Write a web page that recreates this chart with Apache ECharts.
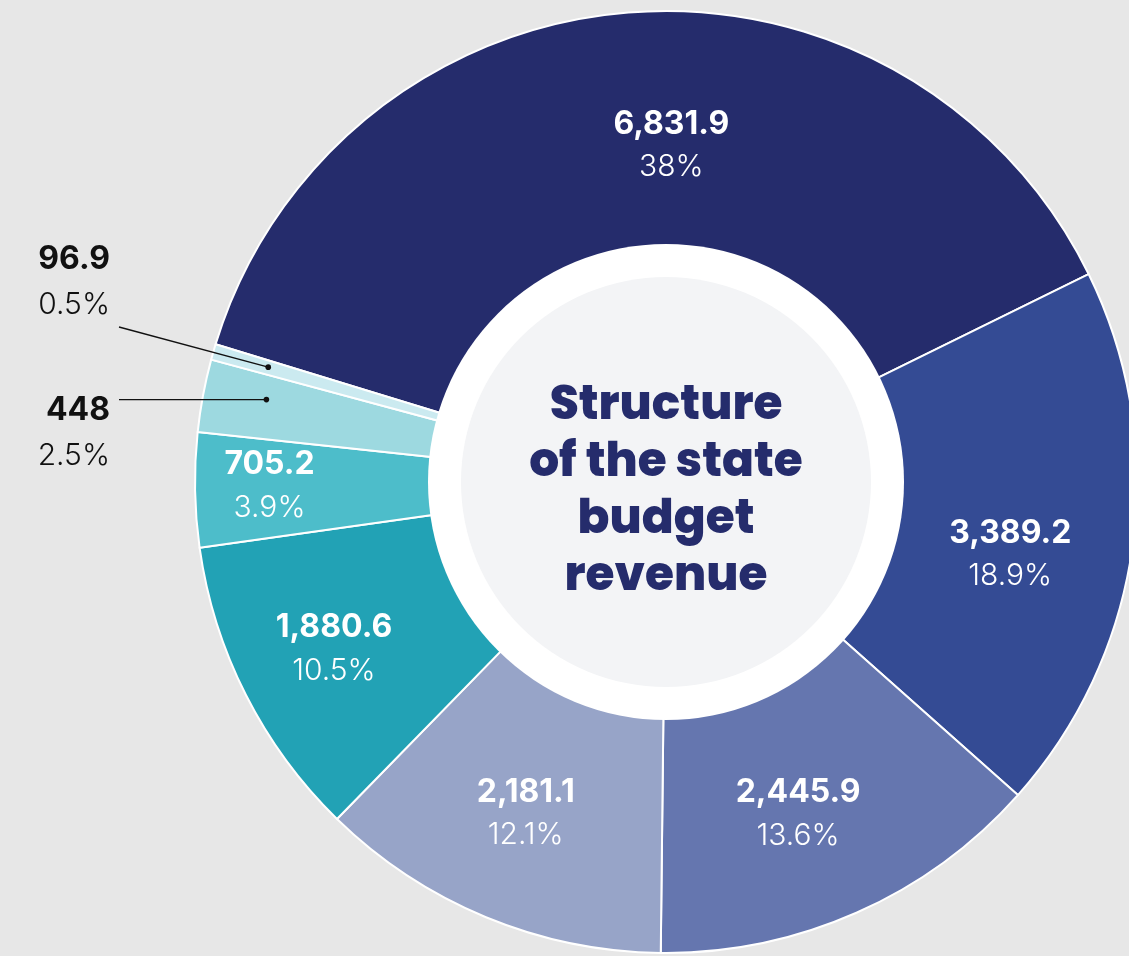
<!DOCTYPE html>
<html>
<head>
<meta charset="utf-8">
<script src="https://cdn.jsdelivr.net/npm/echarts@6/dist/echarts.min.js"></script>
<style>
  html, body { margin: 0; padding: 0; background: #e7e7e7; }
  #chart { width: 1129px; height: 956px; }
</style>
</head>
<body>
<div id="chart"></div>
<script>
// budget revenue, clockwise from the upper-left edge
const revenueValues = [6831.9, 3389.2, 2445.9, 2181.1, 1880.6, 705.2, 448, 96.9];
const percentLabels = ['38%', '18.9%', '13.6%', '12.1%', '10.5%', '3.9%', '2.5%', '0.5%'];
const sliceColors = ['#252c6c', '#344b94', '#6576af', '#97a4c8', '#22a2b5', '#4dbdca', '#9dd9e0', '#cbeaf0'];
const centerTitle = 'Structure\nof the state\nbudget\nrevenue';

// nudges for the inside labels (designer placed them by hand)
const labelShift = [[34, 19], [-9, 25], [-12, 6], [-4, 2], [-14, 6], [-40, -2]];

const CX = 666, CY = 482;
const R_OUT = 471, R_IN = 236, R_DISK = 205;
const START = 163;
const FONT = 'Inter, "Noto Sans", sans-serif';

const chart = echarts.init(document.getElementById('chart'));

const fmt = v => v.toLocaleString('en-US', {maximumFractionDigits: 1});

const insideRich = {
  v: {fontFamily: FONT, fontSize: 32, fontWeight: 'bold', color: '#fff', lineHeight: 43},
  p: {fontFamily: FONT, fontSize: 30, fontWeight: 300, color: '#fff', lineHeight: 43}
};
const outsideRich = {
  v: {fontFamily: FONT, fontSize: 32, fontWeight: 'bold', color: '#111', lineHeight: 46, align: 'right'},
  p: {fontFamily: FONT, fontSize: 30, fontWeight: 300, color: '#111', lineHeight: 46, align: 'right'}
};

const pieData = revenueValues.map((v, i) => ({
  value: v,
  name: fmt(v),
  itemStyle: {color: sliceColors[i]},
  label: i < 6 ? {rich: insideRich} : {rich: outsideRich, align: 'right'}
}));

// outside labels for the two thin slices, and where along each slice its dot sits
const outsidePos = {6: [110, 433], 7: [110, 282]};
const dotAt = {6: [0.62, 408], 7: [0.54, 414]};

// leader lines with dots for the thin slices, placed from the slice angles
const total = revenueValues.reduce((a, b) => a + b, 0);
const graphics = [];
let acc = 0;
revenueValues.forEach((v, i) => {
  const start = acc;
  acc += v;
  if (!outsidePos[i]) return;
  const ang = START - 360 * (start + v * dotAt[i][0]) / total;
  const a = ang * Math.PI / 180;
  const rr = dotAt[i][1];
  const px = CX + Math.cos(a) * rr;
  const py = CY - Math.sin(a) * rr;
  const end = i === 7 ? [119, 327] : [119, py];
  graphics.push({
    type: 'polyline', z: 10, silent: true,
    shape: {points: [end, [px, py]]},
    style: {stroke: '#111', lineWidth: 1.3, fill: null}
  });
  graphics.push({
    type: 'circle', z: 10, silent: true,
    shape: {cx: px, cy: py, r: 2.8},
    style: {fill: '#111'}
  });
});

const option = {
  backgroundColor: '#e7e7e7',
  animation: false,
  graphic: graphics,
  series: [
    {
      type: 'pie',
      center: [CX, CY],
      radius: [R_IN, R_OUT],
      startAngle: START,
      clockwise: true,
      silent: true,
      itemStyle: {borderColor: '#fff', borderWidth: 2},
      label: {
        show: true,
        position: 'inside',
        formatter: p => '{v|' + p.name + '}\n{p|' + percentLabels[p.dataIndex] + '}'
      },
      labelLine: {show: false},
      labelLayout: function (p) {
        const i = p.dataIndex;
        if (outsidePos[i]) {
          return {x: outsidePos[i][0], y: outsidePos[i][1], align: 'right', verticalAlign: 'middle'};
        }
        return {dx: labelShift[i][0], dy: labelShift[i][1]};
      },
      data: pieData
    },
    {
      type: 'pie',
      center: [CX, CY],
      radius: [0, R_IN + 2],
      silent: true,
      z: 3,
      label: {show: false},
      itemStyle: {color: '#fff'},
      data: [{value: 1}]
    },
    {
      type: 'pie',
      center: [CX, CY],
      radius: [0, R_DISK],
      silent: true,
      z: 4,
      itemStyle: {color: '#f3f4f6'},
      label: {
        show: true,
        position: 'center',
        formatter: '{b}',
        fontFamily: 'Poppins, Inter, sans-serif',
        fontSize: 47,
        fontWeight: 800,
        lineHeight: 57,
        color: '#252c6c'
      },
      labelLayout: {dy: 11},
      data: [{value: 1, name: centerTitle}]
    }
  ]
};

chart.setOption(option);
</script>
</body>
</html>
